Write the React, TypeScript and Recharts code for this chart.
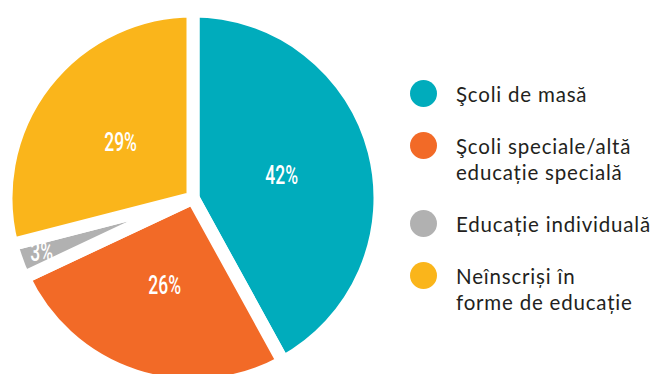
import { PieChart, Pie, Cell, Legend } from 'recharts'

const categories = [
  'Şcoli de masă',
  'Şcoli speciale/altă educație specială',
  'Educație individuală',
  'Neînscriși în forme de educație',
]
const legendLines = [
  ['Şcoli de masă'],
  ['Şcoli speciale/altă', 'educație specială'],
  ['Educație individuală'],
  ['Neînscriși în', 'forme de educație'],
]
const shares = [42, 26, 3, 29]
const colors = ['#00acbc', '#f26a27', '#b1b1b1', '#fab51b']

const data = categories.map((name, i) => ({ name, value: shares[i] }))

const RAD = Math.PI / 180

// labels sit mid-slice, the thin slice gets its label pushed out to the rim
function renderLabel(props: any) {
  const { cx, cy, midAngle, outerRadius, percent, value } = props
  const r = percent < 0.05 ? outerRadius * 0.86 : outerRadius * 0.49
  const x = cx + r * Math.cos(-midAngle * RAD)
  const y = cy + r * Math.sin(-midAngle * RAD)
  // squeeze horizontally to get a condensed look
  return (
    <g transform={`translate(${x},${y}) scale(0.7,1)`}>
      <text
        x={0}
        y={0}
        fill="#ffffff"
        textAnchor="middle"
        dominantBaseline="central"
        fontFamily="Roboto, sans-serif"
        fontWeight={500}
        fontSize={25}
      >
        {value}%
      </text>
    </g>
  )
}

function LegendBox() {
  const tops = [78, 130, 208, 260]
  return (
    <div style={{ position: 'relative', width: 250, height: 300 }}>
      {legendLines.map((lines, i) => (
        <div
          key={categories[i]}
          style={{ position: 'absolute', left: 0, top: tops[i], display: 'flex' }}
        >
          <div
            style={{
              width: 27,
              height: 27,
              borderRadius: '50%',
              background: colors[i],
              marginTop: 2,
              flexShrink: 0,
            }}
          />
          <div
            style={{
              marginLeft: 19,
              marginTop: 3,
              fontFamily: 'Lato, sans-serif',
              fontSize: 20.5,
              letterSpacing: 0.8,
              lineHeight: '26px',
              color: '#231f20',
              textAlign: 'left',
              whiteSpace: 'nowrap',
            }}
          >
            {lines.map((l) => (
              <div key={l}>{l}</div>
            ))}
          </div>
        </div>
      ))}
    </div>
  )
}

export default function App() {
  return (
    <div style={{ position: 'absolute', left: 0, top: 0, background: '#fff' }}>
      <PieChart width={654} height={374}>
        <Pie
          data={data}
          dataKey="value"
          nameKey="name"
          cx={188}
          cy={193}
          outerRadius={187}
          startAngle={90}
          endAngle={-270}
          stroke="#ffffff"
          strokeWidth={13}
          label={renderLabel}
          labelLine={false}
          isAnimationActive={false}
        >
          {data.map((d, i) => (
            <Cell key={d.name} fill={colors[i]} />
          ))}
        </Pie>
        <Legend
          content={() => <LegendBox />}
          wrapperStyle={{ position: 'absolute', left: 410, top: 0, width: 250 }}
        />
      </PieChart>
    </div>
  )
}
